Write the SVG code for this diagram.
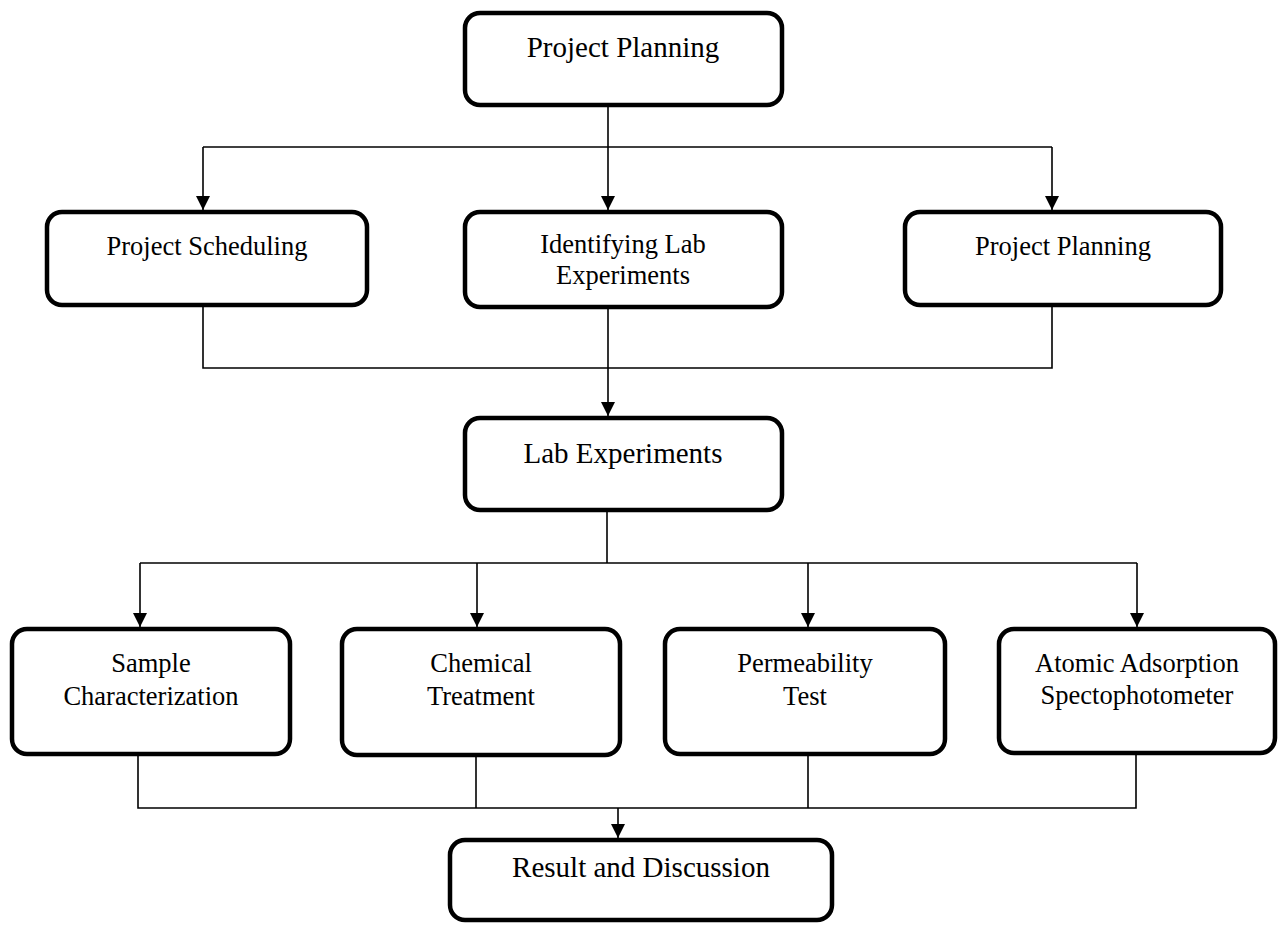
<svg xmlns="http://www.w3.org/2000/svg" width="1288" height="933" viewBox="0 0 1288 933">
<style>
.box{fill:#fff;stroke:#000;stroke-width:4.5}
.lbl{font-family:"Liberation Serif","Times New Roman",serif;font-size:26.5px;fill:#000;text-anchor:middle}
.big{font-size:29px}
.ln{fill:none;stroke:#000;stroke-width:1.6}
</style>
<defs>
<marker id="ah" markerWidth="16" markerHeight="14" refX="14" refY="7" orient="auto" markerUnits="userSpaceOnUse" viewBox="0 0 16 14">
<path d="M0,0 L14,7 L0,14 Z" fill="#000"/>
</marker>
</defs>
<rect width="1288" height="933" fill="#fff"/>
<g id="connectors">
<path class="ln" d="M608,105 V210" marker-end="url(#ah)"/>
<path class="ln" d="M203,147 H1052"/>
<path class="ln" d="M203,147 V210" marker-end="url(#ah)"/>
<path class="ln" d="M1052,147 V210" marker-end="url(#ah)"/>
<path class="ln" d="M203,305 V368 H1052 V305"/>
<path class="ln" d="M608,307 V416" marker-end="url(#ah)"/>
<path class="ln" d="M607,510 V563"/>
<path class="ln" d="M140,563 H1137"/>
<path class="ln" d="M140,563 V627" marker-end="url(#ah)"/>
<path class="ln" d="M477,563 V627" marker-end="url(#ah)"/>
<path class="ln" d="M808,563 V627" marker-end="url(#ah)"/>
<path class="ln" d="M1137,563 V627" marker-end="url(#ah)"/>
<path class="ln" d="M138,754 V808 H1136 V754"/>
<path class="ln" d="M476,754 V808"/>
<path class="ln" d="M808,754 V808"/>
<path class="ln" d="M618,808 V838" marker-end="url(#ah)"/>
</g>
<g id="n_top"><rect class="box" x="465" y="13" width="317" height="92" rx="15"/><text class="lbl big" x="623" y="57">Project Planning</text></g>
<g id="n_sched"><rect class="box" x="47" y="212" width="320" height="93" rx="15"/><text class="lbl" x="207" y="255">Project Scheduling</text></g>
<g id="n_ident"><rect class="box" x="465" y="212" width="317" height="95" rx="15"/><text class="lbl" x="623" y="253">Identifying Lab</text><text class="lbl" x="623" y="284">Experiments</text></g>
<g id="n_plan2"><rect class="box" x="905" y="212" width="316" height="93" rx="15"/><text class="lbl" x="1063" y="255">Project Planning</text></g>
<g id="n_lab"><rect class="box" x="465" y="418" width="317" height="92" rx="15"/><text class="lbl big" x="623" y="463">Lab Experiments</text></g>
<g id="n_sample"><rect class="box" x="12" y="629" width="278" height="125" rx="15"/><text class="lbl" x="151" y="672">Sample</text><text class="lbl" x="151" y="705">Characterization</text></g>
<g id="n_chem"><rect class="box" x="342" y="629" width="278" height="126" rx="15"/><text class="lbl" x="481" y="672">Chemical</text><text class="lbl" x="481" y="705">Treatment</text></g>
<g id="n_perm"><rect class="box" x="665" y="629" width="280" height="125" rx="15"/><text class="lbl" x="805" y="672">Permeability</text><text class="lbl" x="805" y="705">Test</text></g>
<g id="n_atomic"><rect class="box" x="999" y="629" width="276" height="124" rx="15"/><text class="lbl" x="1137" y="672">Atomic Adsorption</text><text class="lbl" x="1137" y="704">Spectophotometer</text></g>
<g id="n_result"><rect class="box" x="450" y="840" width="382" height="80" rx="15"/><text class="lbl big" x="641" y="877">Result and Discussion</text></g>
</svg>
